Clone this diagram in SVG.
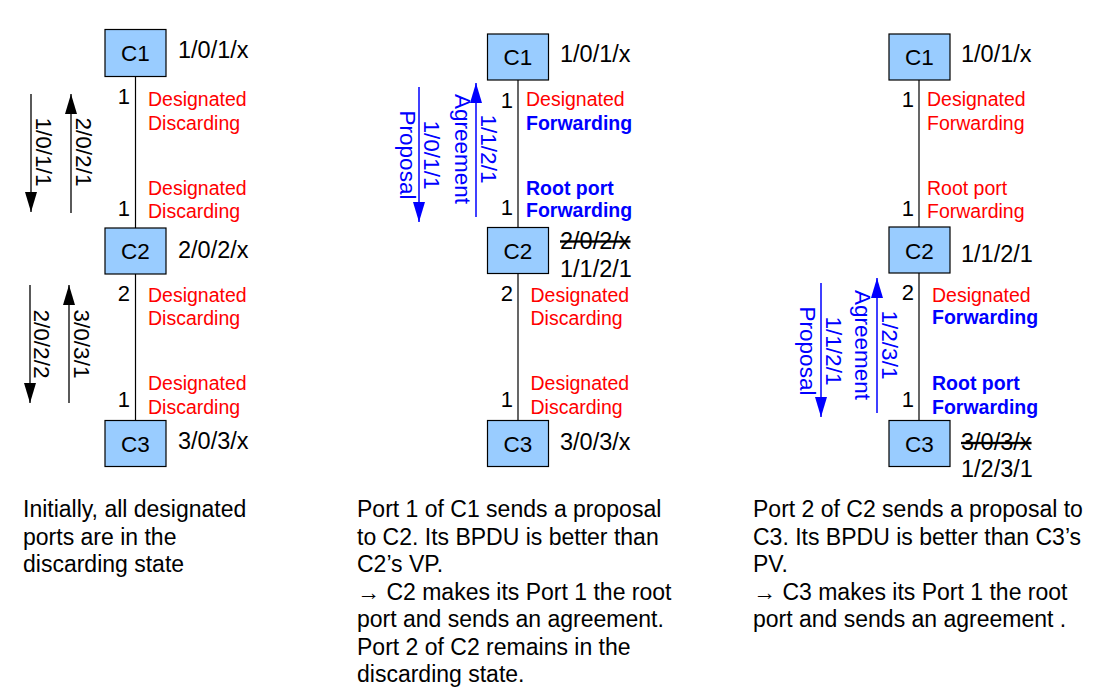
<svg xmlns="http://www.w3.org/2000/svg" width="1097" height="700" viewBox="0 0 1097 700">
<style>
text{font-family:"Liberation Sans",Arial,sans-serif;}
.box{fill:#99ccff;stroke:#000;stroke-width:1.2;}
.nid{font-size:22.5px;text-anchor:middle;fill:#000;}
.vec{font-size:23.5px;fill:#000;}
.strike{text-decoration:line-through;}
.port{font-size:22px;fill:#000;text-anchor:end;}
.red{font-size:19.5px;fill:#ff0000;}
.blue{font-size:19.5px;fill:#0000ff;font-weight:bold;}
.link{stroke:#000;stroke-width:1.2;}
.ab{stroke:#000;stroke-width:1.3;fill:none;marker-end:url(#hb);}
.au{stroke:#0000ff;stroke-width:1.5;fill:none;marker-end:url(#hu);}
.rl{font-size:22.5px;text-anchor:middle;}
.k{fill:#000;}
.bl{fill:#0000ff;}
.desc{font-size:23px;fill:#000;}
</style>
<defs>
<marker id="hb" markerUnits="userSpaceOnUse" markerWidth="20" markerHeight="12" refX="20" refY="6" orient="auto"><path d="M0,0 L20,6 L0,12 z" fill="#000"/></marker>
<marker id="hu" markerUnits="userSpaceOnUse" markerWidth="20" markerHeight="12" refX="20" refY="6" orient="auto"><path d="M0,0 L20,6 L0,12 z" fill="#0000ff"/></marker>
</defs>

<g id="connectors">
<line class="link" x1="135.5" y1="76" x2="135.5" y2="228"/>
<line class="link" x1="135.5" y1="274" x2="135.5" y2="420.5"/>
<line class="link" x1="518" y1="80" x2="518" y2="227.5"/>
<line class="link" x1="518" y1="273.5" x2="518" y2="420.5"/>
<line class="link" x1="919" y1="80" x2="919" y2="227"/>
<line class="link" x1="919" y1="273" x2="919" y2="420.5"/>
<line class="ab" x1="31" y1="94" x2="31" y2="212"/>
<line class="ab" x1="71" y1="213" x2="71" y2="94"/>
<line class="ab" x1="30" y1="285" x2="30" y2="403"/>
<line class="ab" x1="69" y1="403" x2="69" y2="285"/>
<line class="au" x1="419" y1="87" x2="419" y2="222"/>
<line class="au" x1="476" y1="217" x2="476" y2="83"/>
<line class="au" x1="821" y1="283" x2="821" y2="417"/>
<line class="au" x1="877" y1="413" x2="877" y2="278"/>
</g>

<g id="arrow-labels">
<text class="rl k" transform="translate(36,152) rotate(90)">1/0/1/1</text>
<text class="rl k" transform="translate(76,152) rotate(90)">2/0/2/1</text>
<text class="rl k" transform="translate(34,344) rotate(90)">2/0/2/2</text>
<text class="rl k" transform="translate(74,344) rotate(90)">3/0/3/1</text>
<text class="rl bl" transform="translate(424,155) rotate(90)">1/0/1/1</text>
<text class="rl bl" transform="translate(400,155) rotate(90)">Proposal</text>
<text class="rl bl" transform="translate(481,149) rotate(90)">1/1/2/1</text>
<text class="rl bl" transform="translate(454.5,149) rotate(90)">Agreement</text>
<text class="rl bl" transform="translate(826,351) rotate(90)">1/1/2/1</text>
<text class="rl bl" transform="translate(799.5,351) rotate(90)">Proposal</text>
<text class="rl bl" transform="translate(882,345) rotate(90)">1/2/3/1</text>
<text class="rl bl" transform="translate(854.5,345) rotate(90)">Agreement</text>
</g>

<!-- Left panel -->
<g id="L-C1"><rect class="box" x="105" y="29.5" width="61" height="47"/><text class="nid" x="135.5" y="61">C1</text></g>
<g id="L-C2"><rect class="box" x="105" y="228" width="61" height="46"/><text class="nid" x="135.5" y="259">C2</text></g>
<g id="L-C3"><rect class="box" x="105" y="420.5" width="61" height="46"/><text class="nid" x="135.5" y="451.5">C3</text></g>
<g id="L-labels">
<text class="vec" x="178" y="58">1/0/1/x</text>
<text class="vec" x="178" y="258">2/0/2/x</text>
<text class="vec" x="178" y="449">3/0/3/x</text>
<text class="port" x="130" y="104">1</text>
<text class="port" x="130" y="216">1</text>
<text class="port" x="130" y="301">2</text>
<text class="port" x="130" y="407">1</text>
<text class="red" x="148" y="106">Designated</text>
<text class="red" x="148" y="130">Discarding</text>
<text class="red" x="148" y="195">Designated</text>
<text class="red" x="148" y="218">Discarding</text>
<text class="red" x="148" y="302">Designated</text>
<text class="red" x="148" y="325">Discarding</text>
<text class="red" x="148" y="390">Designated</text>
<text class="red" x="148" y="413.5">Discarding</text>
</g>

<!-- Middle panel -->
<g id="M-C1"><rect class="box" x="487.5" y="34" width="61" height="46"/><text class="nid" x="518" y="65">C1</text></g>
<g id="M-C2"><rect class="box" x="487.5" y="227.5" width="61" height="46"/><text class="nid" x="518" y="259">C2</text></g>
<g id="M-C3"><rect class="box" x="487.5" y="420.5" width="61" height="46"/><text class="nid" x="518" y="451.5">C3</text></g>
<g id="M-labels">
<text class="vec" x="560" y="62">1/0/1/x</text>
<text class="vec strike" x="560" y="248.5">2/0/2/x</text>
<text class="vec" x="560" y="276.5">1/1/2/1</text>
<text class="vec" x="560" y="450">3/0/3/x</text>
<text class="port" x="513" y="108">1</text>
<text class="port" x="513" y="215">1</text>
<text class="port" x="513" y="301">2</text>
<text class="port" x="513" y="407">1</text>
<text class="red" x="526" y="106">Designated</text>
<text class="blue" x="526" y="130">Forwarding</text>
<text class="blue" x="526" y="195">Root port</text>
<text class="blue" x="526" y="217">Forwarding</text>
<text class="red" x="530.5" y="302">Designated</text>
<text class="red" x="530.5" y="325">Discarding</text>
<text class="red" x="530.5" y="390">Designated</text>
<text class="red" x="530.5" y="413.5">Discarding</text>
</g>

<!-- Right panel -->
<g id="R-C1"><rect class="box" x="889" y="34" width="61" height="46"/><text class="nid" x="919.5" y="65">C1</text></g>
<g id="R-C2"><rect class="box" x="889" y="227" width="61" height="46"/><text class="nid" x="919.5" y="258.5">C2</text></g>
<g id="R-C3"><rect class="box" x="889" y="420.5" width="61" height="46"/><text class="nid" x="919.5" y="451.5">C3</text></g>
<g id="R-labels">
<text class="vec" x="961" y="62">1/0/1/x</text>
<text class="vec" x="961" y="262">1/1/2/1</text>
<text class="vec strike" x="961" y="450">3/0/3/x</text>
<text class="vec" x="961" y="477">1/2/3/1</text>
<text class="port" x="914" y="107">1</text>
<text class="port" x="914" y="216">1</text>
<text class="port" x="914" y="300">2</text>
<text class="port" x="914" y="407">1</text>
<text class="red" x="927" y="106">Designated</text>
<text class="red" x="927" y="130">Forwarding</text>
<text class="red" x="927" y="195">Root port</text>
<text class="red" x="927" y="218">Forwarding</text>
<text class="red" x="932" y="302">Designated</text>
<text class="blue" x="932" y="324">Forwarding</text>
<text class="blue" x="932" y="390">Root port</text>
<text class="blue" x="932" y="413.5">Forwarding</text>
</g>

<g id="captions">
<text class="desc" x="23" y="517">Initially, all designated</text>
<text class="desc" x="23" y="544.5">ports are in the</text>
<text class="desc" x="23" y="572">discarding state</text>

<text class="desc" x="357" y="517">Port 1 of C1 sends a proposal</text>
<text class="desc" x="357" y="544.5">to C2. Its BPDU is better than</text>
<text class="desc" x="357" y="572">C2’s VP.</text>
<text class="desc" x="357" y="599.5">→ C2 makes its Port 1 the root</text>
<text class="desc" x="357" y="627">port and sends an agreement.</text>
<text class="desc" x="357" y="654.5">Port 2 of C2 remains in the</text>
<text class="desc" x="357" y="682">discarding state.</text>

<text class="desc" x="753" y="517">Port 2 of C2 sends a proposal to</text>
<text class="desc" x="753" y="544.5">C3. Its BPDU is better than C3’s</text>
<text class="desc" x="753" y="572">PV.</text>
<text class="desc" x="753" y="599.5">→ C3 makes its Port 1 the root</text>
<text class="desc" x="753" y="627">port and sends an agreement .</text>
</g>
</svg>
